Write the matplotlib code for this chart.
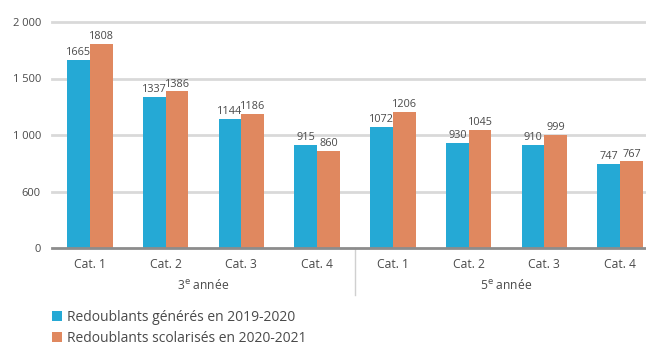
import numpy as np
import matplotlib.pyplot as plt

# data
categories = ['Cat. 1', 'Cat. 2', 'Cat. 3', 'Cat. 4', 'Cat. 1', 'Cat. 2', 'Cat. 3', 'Cat. 4']
groups = ['3$^{\\mathrm{e}}$ année', '5$^{\\mathrm{e}}$ année']
generes = [1665, 1337, 1144, 915, 1072, 930, 910, 747]
scolarises = [1808, 1386, 1186, 860, 1206, 1045, 999, 767]
ytick_vals = [0, 500, 1000, 1500, 2000]
ytick_text = ['0', '600', '1 000', '1 500', '2 000']  # as printed in the source

BLUE = '#25A9D5'
ORANGE = '#E0885F'
TXT = '#4a4a4a'

plt.rcParams['font.family'] = ['Open Sans', 'DejaVu Sans']

fig = plt.figure(figsize=(6.46, 3.45), dpi=100)
ax = fig.add_axes([52 / 646, 1 - 248 / 345, 606 / 646, 226 / 345])

x = np.arange(len(categories))
w = 0.3
b1 = ax.bar(x - w / 2, generes, w, color=BLUE, label='Redoublants générés en 2019-2020', zorder=3)
b2 = ax.bar(x + w / 2, scolarises, w, color=ORANGE, label='Redoublants scolarisés en 2020-2021', zorder=3)

for rect, v in zip(b1, generes):
    ax.text(rect.get_x() + rect.get_width() / 2, v + 15, str(v), ha='center', va='bottom',
            fontsize=7.8, color=TXT)
for rect, v in zip(b2, scolarises):
    ax.text(rect.get_x() + rect.get_width() / 2, v + 15, str(v), ha='center', va='bottom',
            fontsize=7.8, color=TXT)

ax.set_xlim(-0.5, len(categories) - 0.5)
ax.set_ylim(0, 2000)
ax.set_yticks(ytick_vals)
ax.set_yticklabels(ytick_text, fontsize=8, color=TXT)
ax.tick_params(axis='y', length=0, pad=8)
for v in ytick_vals[1:]:
    ax.axhline(v, color='#d9d9d9', linewidth=2, zorder=1, clip_on=False)

for s in ['top', 'right', 'left']:
    ax.spines[s].set_visible(False)
ax.spines['bottom'].set_color('#8c8c8c')
ax.spines['bottom'].set_linewidth(2)
ax.spines['bottom'].set_zorder(4)

ax.set_xticks(x)
ax.set_xticklabels(categories, fontsize=8.7, color=TXT)
ax.tick_params(axis='x', length=0, pad=7)

# group labels and separator
trans = ax.get_xaxis_transform()
ax.text(1.5, -0.165, groups[0], transform=trans, ha='center', va='center', fontsize=8.7, color=TXT)
ax.text(5.5, -0.165, groups[1], transform=trans, ha='center', va='center', fontsize=8.7, color=TXT)
ax.plot([3.5, 3.5], [0, -0.21], transform=trans, color='#d0d0d0', linewidth=1, clip_on=False)

leg = fig.legend(handles=[b1, b2], loc='upper left', bbox_to_anchor=(46 / 646, 1 - 304 / 345),
                 frameon=False, fontsize=10, handlelength=0.75, handleheight=0.75,
                 handletextpad=0.35, labelspacing=0.45, borderaxespad=0)
for t in leg.get_texts():
    t.set_color(TXT)

fig.savefig('out.png', dpi=100)
